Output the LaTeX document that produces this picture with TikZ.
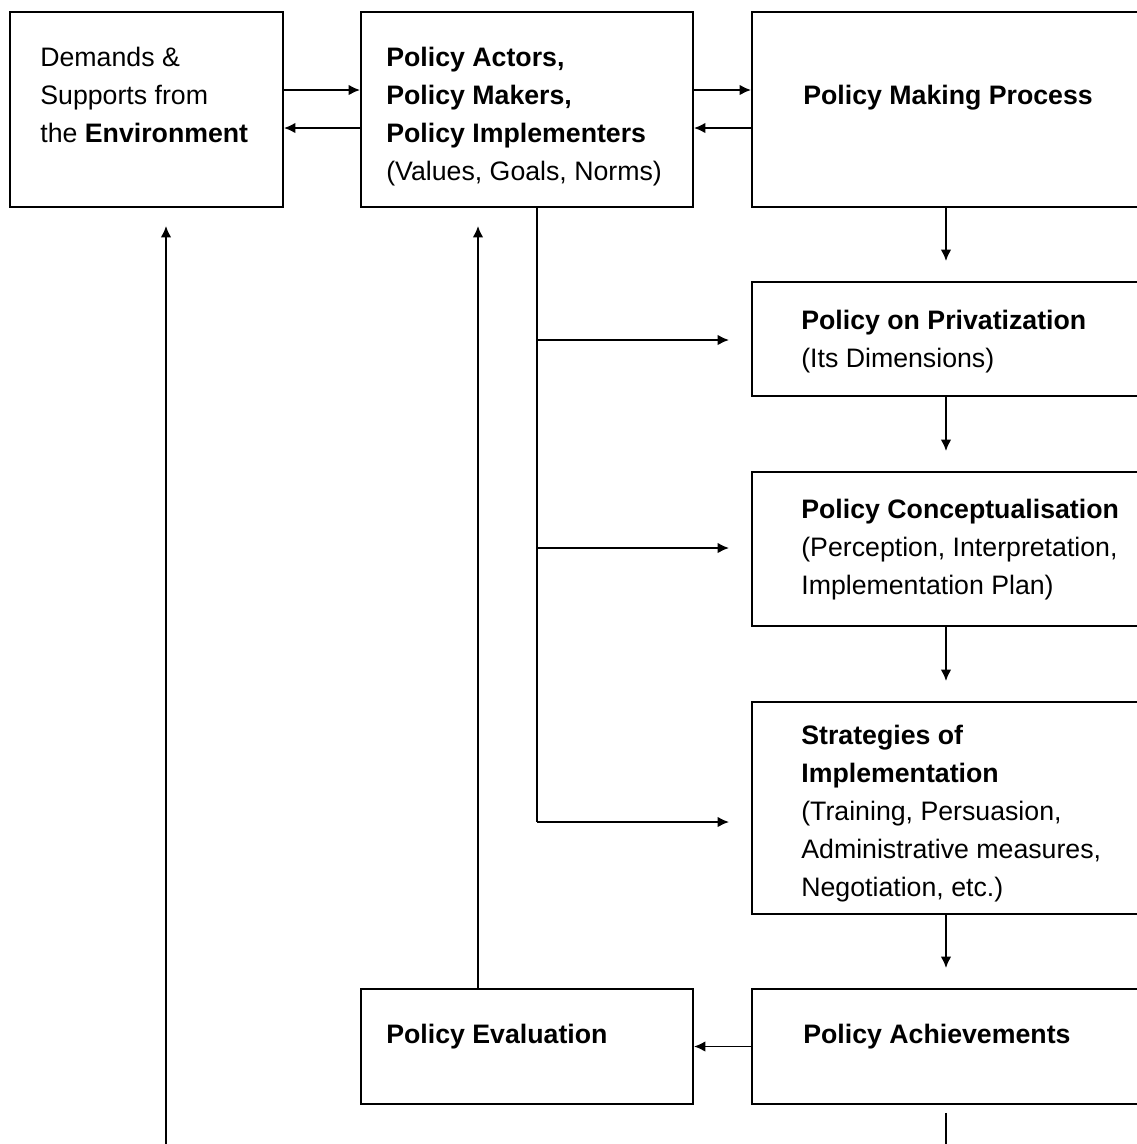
\documentclass[tikz,border=0pt]{standalone}
\usepackage{fontspec}
\setmainfont{Liberation Sans}
\usetikzlibrary{arrows.meta,fit}
\begin{document}
\begin{tikzpicture}[x=0.02cm,y=-0.02cm,
  box/.style={draw, line width=1.1pt, inner sep=0pt},
  txt/.style={anchor=base west, align=left, inner sep=0pt, font=\fontsize{15.2}{21.5}\selectfont},
  conn/.style={line width=1pt},
  arr/.style={line width=1pt, -{Latex[length=6.5pt,width=6pt]}}]
\useasboundingbox (0,0) rectangle (1137,1144);
% box corners
\coordinate (a1) at (10,12);   \coordinate (a2) at (283,207);
\coordinate (b1) at (361,12);  \coordinate (b2) at (693,207);
\coordinate (c1) at (752,12);  \coordinate (c2) at (1140,207);
\coordinate (d1) at (752,282); \coordinate (d2) at (1140,396);
\coordinate (e1) at (752,472); \coordinate (e2) at (1140,626);
\coordinate (f1) at (752,702); \coordinate (f2) at (1140,914);
\coordinate (g1) at (361,989); \coordinate (g2) at (693,1104);
\coordinate (k1) at (752,989); \coordinate (k2) at (1140,1104);
\node[box, fit=(a1)(a2)] (A) {};
\node[box, fit=(b1)(b2)] (B) {};
\node[box, fit=(c1)(c2)] (C) {};
\node[box, fit=(d1)(d2)] (D) {};
\node[box, fit=(e1)(e2)] (E) {};
\node[box, fit=(f1)(f2)] (F) {};
\node[box, fit=(g1)(g2)] (G) {};
\node[box, fit=(k1)(k2)] (H) {};
% texts (anchored at the baseline of the last line)
\node[txt] (At) at (40,142) {Demands \&\\Supports from\\the \textbf{Environment}};
\node[txt] (Bt) at (386,180) {\textbf{Policy Actors,}\\\textbf{Policy Makers,}\\\textbf{Policy Implementers}\\(Values, Goals, Norms)};
\node[txt] (Ct) at (803,104) {\textbf{Policy Making Process}};
\node[txt] (Dt) at (801,367) {\textbf{Policy on Privatization}\\(Its Dimensions)};
\node[txt] (Et) at (801,594) {\textbf{Policy Conceptualisation}\\(Perception, Interpretation,\\Implementation Plan)};
\node[txt] (Ft) at (801,896) {\textbf{Strategies of}\\\textbf{Implementation}\\(Training, Persuasion,\\Administrative measures,\\Negotiation, etc.)};
\node[txt] (Gt) at (386,1043) {\textbf{Policy Evaluation}};
\node[txt] (Ht) at (803,1043) {\textbf{Policy Achievements}};
% helper coordinates
\coordinate (h1) at (0,90);
\coordinate (h2) at (0,128);
\coordinate (bs) at (537,207);
\coordinate (j1) at (537,340);
\coordinate (j2) at (537,548);
\coordinate (j3) at (537,822);
\coordinate (gx) at (478,0);
\coordinate (bot1) at (946,1144);
\coordinate (bot2) at (166,1144);
% connectors
\draw[arr] (A.east |- h1) -- (B.west |- h1);
\draw[arr] (B.west |- h2) -- (A.east |- h2);
\draw[arr] (B.east |- h1) -- (C.west |- h1);
\draw[arr] (C.west |- h2) -- (B.east |- h2);
\draw[arr, shorten >=0.4cm] (C.south) -- (D.north);
\draw[arr, shorten >=0.4cm] (D.south) -- (E.north);
\draw[arr, shorten >=0.4cm] (E.south) -- (F.north);
\draw[arr, shorten >=0.4cm] (F.south) -- (H.north);
\draw[conn] (bs) -- (j3);
\draw[arr, shorten >=0.44cm] (j1) -- (j1 -| D.west);
\draw[arr, shorten >=0.44cm] (j2) -- (j2 -| E.west);
\draw[arr, shorten >=0.44cm] (j3) -- (j3 -| F.west);
\draw[arr] (H.west) -- (G.east);
\draw[arr, shorten >=0.36cm] (G.north -| gx) -- (B.south -| gx);
\draw[conn, shorten <=0.16cm] (H.south) -- (bot1);
\draw[arr, shorten >=0.36cm] (bot2) -- (A.south -| bot2);
\end{tikzpicture}
\end{document}
